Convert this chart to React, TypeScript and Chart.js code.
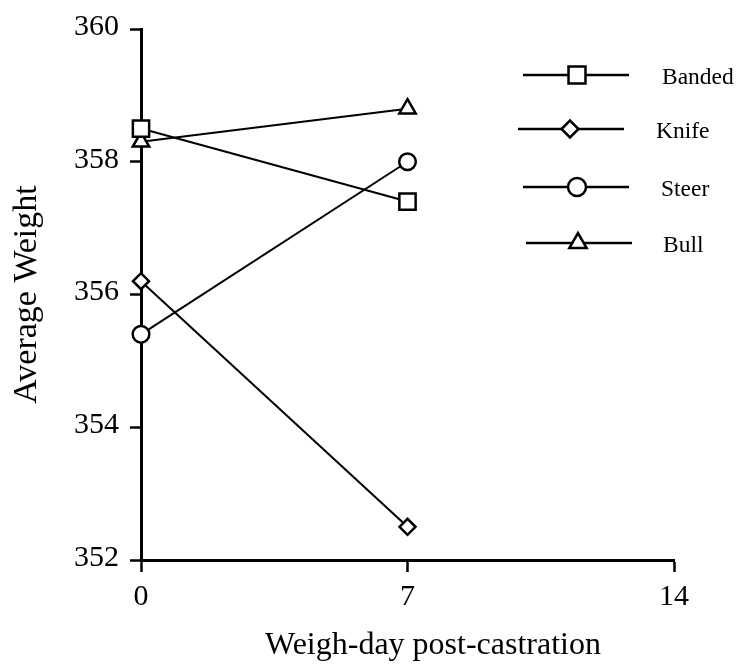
import React, { useEffect, useRef } from 'react';
import { Chart, registerables } from 'chart.js';
import { drawPoint } from 'chart.js/helpers';

Chart.register(...registerables);

// ---- data ----
const days = [0, 7];
const banded = [358.5, 357.4];
const knife = [356.2, 352.5];
const steer = [355.4, 358.0];
const bull = [358.3, 358.8];
const seriesNames = ['Banded', 'Knife', 'Steer', 'Bull'];
const xTickValues = [0, 7, 14];
const yTickValues = [352, 354, 356, 358, 360];
const xTitle = 'Weigh-day post-castration';
const yTitle = 'Average Weight';

const FONT = "'Liberation Serif', 'Times New Roman', serif";

const seriesValues = [banded, knife, steer, bull];
const seriesStyles = [
  { pointStyle: 'rect', radius: 11.5, legendRadius: 12 },
  { pointStyle: 'rectRot', radius: 8, legendRadius: 8.5 },
  { pointStyle: 'circle', radius: 8.3, legendRadius: 9 },
  { pointStyle: 'triangle', radius: 9.5, legendRadius: 10 },
];

// legend layout (line start, line end, marker x, text x, row y)
const legendLayout = [
  { x1: 523, x2: 629, xm: 577, xt: 662, y: 75 },
  { x1: 518, x2: 624, xm: 570, xt: 656, y: 129 },
  { x1: 523, x2: 629, xm: 577, xt: 661, y: 187 },
  { x1: 526, x2: 632, xm: 578, xt: 663, y: 243 },
];

const sideLegend = {
  id: 'sideLegend',
  afterDraw(chart: any) {
    const ctx = chart.ctx;
    chart.data.datasets.forEach((ds: any, i: number) => {
      const L = legendLayout[i];
      ctx.save();
      ctx.strokeStyle = '#000';
      ctx.lineWidth = 2.5;
      ctx.beginPath();
      ctx.moveTo(L.x1, L.y);
      ctx.lineTo(L.x2, L.y);
      ctx.stroke();
      ctx.fillStyle = '#fff';
      ctx.lineWidth = 2.5;
      drawPoint(
        ctx,
        { pointStyle: ds.pointStyle, radius: seriesStyles[i].legendRadius, borderWidth: 2.5, rotation: 0 } as any,
        L.xm,
        L.y
      );
      ctx.fillStyle = '#000';
      ctx.font = `23.5px ${FONT}`;
      ctx.textBaseline = 'middle';
      ctx.textAlign = 'left';
      ctx.fillText(ds.label, L.xt, L.y + 3);
      ctx.restore();
    });
    // x-axis title (offset to the right of the plot centre, as in the source)
    ctx.save();
    ctx.fillStyle = '#000';
    ctx.font = `32px ${FONT}`;
    ctx.textBaseline = 'middle';
    ctx.textAlign = 'center';
    ctx.fillText(xTitle, 433, 646);
    ctx.restore();
  },
};

export default function App() {
  const canvasRef = useRef<HTMLCanvasElement | null>(null);

  useEffect(() => {
    if (!canvasRef.current) return;
    const datasets = seriesNames.map((name, i) => ({
      label: name,
      data: days.map((d, j) => ({ x: d, y: seriesValues[i][j] })),
      borderColor: '#000',
      backgroundColor: '#fff',
      borderWidth: 2,
      pointStyle: seriesStyles[i].pointStyle,
      pointRadius: seriesStyles[i].radius,
      pointBackgroundColor: '#fff',
      pointBorderColor: '#000',
      pointBorderWidth: 2.5,
      clip: false as any,
      tension: 0,
    }));

    const chart = new Chart(canvasRef.current, {
      type: 'line',
      data: { datasets: datasets as any },
      plugins: [sideLegend],
      options: {
        animation: false,
        responsive: true,
        maintainAspectRatio: false,
        layout: { padding: { left: 0, right: 64, top: 26, bottom: 0 } },
        plugins: {
          legend: { display: false },
          tooltip: { enabled: false },
        },
        scales: {
          x: {
            type: 'linear',
            min: 0,
            max: 14,
            afterBuildTicks: (s: any) => {
              s.ticks = xTickValues.map((v) => ({ value: v }));
            },
            afterFit: (s: any) => {
              s.height = 109;
            },
            grid: {
              display: true,
              drawOnChartArea: false,
              drawTicks: true,
              tickLength: 12,
              tickWidth: 2.5,
              tickColor: '#000',
              color: '#000',
            },
            border: { display: true, color: '#000', width: 3 },
            ticks: {
              color: '#000',
              padding: 7,
              maxRotation: 0,
              autoSkip: false,
              font: { family: FONT, size: 30 },
            },
            title: { display: false, text: xTitle },
          },
          y: {
            type: 'linear',
            min: 352,
            max: 360,
            afterBuildTicks: (s: any) => {
              s.ticks = yTickValues.map((v) => ({ value: v }));
            },
            afterFit: (s: any) => {
              s.width = 141;
            },
            grid: {
              display: true,
              drawOnChartArea: false,
              drawTicks: true,
              tickLength: 11,
              tickWidth: 2.5,
              tickColor: '#000',
              color: '#000',
            },
            border: { display: true, color: '#000', width: 3 },
            ticks: {
              color: '#000',
              padding: 11,
              labelOffset: -2,
              autoSkip: false,
              font: { family: FONT, size: 30 },
            },
            title: {
              display: true,
              text: yTitle,
              color: '#000',
              font: { family: FONT, size: 34 },
              padding: { top: 7, bottom: 0 },
            },
          },
        },
      },
    });
    return () => chart.destroy();
  }, []);

  return (
    <div style={{ position: 'fixed', left: 0, top: 0, width: 738, height: 669, background: '#fff' }}>
      <canvas ref={canvasRef} />
    </div>
  );
}
